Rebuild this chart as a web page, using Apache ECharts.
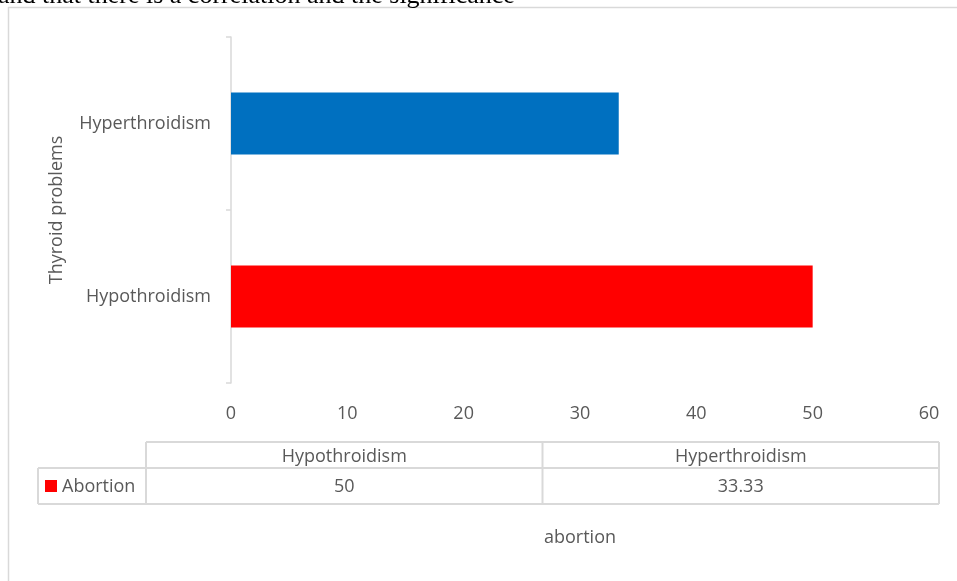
<!DOCTYPE html>
<html>
<head>
<meta charset="utf-8">
<script src="https://cdn.jsdelivr.net/npm/echarts@6/dist/echarts.min.js"></script>
<style>
html,body{margin:0;padding:0;background:#fff;}
#chart{width:957px;height:581px;}
</style>
</head>
<body>
<div id="chart"></div>
<script>
const categories = ['Hypothroidism', 'Hyperthroidism'];
const abortionValues = [50, 33.33];
const abortionLabels = ['50', '33.33'];
const barColors = ['#FF0000', '#0070C0'];
const seriesName = 'Abortion';
const xAxisName = 'abortion';
const yAxisName = 'Thyroid problems';
const xMin = 0, xMax = 60, xInterval = 10;
const noteText = 'and that there is a correlation and the significance';

const FONT = '"Open Sans"';
const FS = 18;
const TXT = '#595959';
const LINE = '#d9d9d9';

const chart = echarts.init(document.getElementById('chart'), null, {renderer: 'canvas'});

// data table layout
const tbl = {left: 38, rowLeft: 146, right: 939, top: 442, mid: 468, bottom: 504};
const colW = (tbl.right - tbl.rowLeft) / categories.length;

const graphics = [];
// outer frame lines of the chart area
graphics.push({type: 'line', shape: {x1: 8, y1: 7.5, x2: 957, y2: 7.5}, style: {stroke: LINE, lineWidth: 1.5}, silent: true});
graphics.push({type: 'line', shape: {x1: 8.5, y1: 7, x2: 8.5, y2: 581}, style: {stroke: LINE, lineWidth: 1.5}, silent: true});
// note text cut at top
graphics.push({type: 'text', x: -2, y: -3.5, style: {text: noteText, font: '26px "Liberation Serif"', fill: '#000', verticalAlign: 'middle', align: 'left'}, silent: true});

// table lines
const tl = (x1, y1, x2, y2) => graphics.push({type: 'line', shape: {x1, y1, x2, y2}, style: {stroke: LINE, lineWidth: 2}, silent: true});
tl(tbl.rowLeft, tbl.top, tbl.right, tbl.top);
tl(tbl.left, tbl.mid, tbl.right, tbl.mid);
tl(tbl.left, tbl.bottom, tbl.right, tbl.bottom);
tl(tbl.left, tbl.mid, tbl.left, tbl.bottom);
for (let i = 0; i <= categories.length; i++) {
  const x = tbl.rowLeft + i * colW;
  tl(x, tbl.top, x, tbl.bottom);
}
categories.forEach((c, i) => {
  const cx = tbl.rowLeft + (i + 0.5) * colW;
  graphics.push({type: 'text', x: cx, y: (tbl.top + tbl.mid) / 2 + 1.5, style: {text: c, font: FS + 'px ' + FONT, fill: TXT, align: 'center', verticalAlign: 'middle'}, silent: true});
  graphics.push({type: 'text', x: cx, y: (tbl.mid + tbl.bottom) / 2 + 1, style: {text: abortionLabels[i], font: FS + 'px ' + FONT, fill: TXT, align: 'center', verticalAlign: 'middle'}, silent: true});
});
// legend key in table
graphics.push({type: 'rect', shape: {x: 45, y: 480, width: 12, height: 12}, style: {fill: barColors[0]}, silent: true});
graphics.push({type: 'text', x: 62, y: (tbl.mid + tbl.bottom) / 2 + 1, style: {text: seriesName, font: FS + 'px ' + FONT, fill: TXT, align: 'left', verticalAlign: 'middle'}, silent: true});

const option = {
  backgroundColor: '#fff',
  animation: false,
  textStyle: {fontFamily: 'Open Sans'},
  grid: {left: 231, right: 28, top: 37, height: 346, containLabel: false},
  xAxis: {
    type: 'value', min: xMin, max: xMax, interval: xInterval,
    name: xAxisName, nameLocation: 'middle', nameGap: 155,
    nameTextStyle: {color: TXT, fontSize: FS, fontFamily: 'Open Sans', verticalAlign: 'middle'},
    axisLine: {show: false}, axisTick: {show: false}, splitLine: {show: false},
    axisLabel: {color: TXT, fontSize: FS, fontFamily: 'Open Sans', margin: 22}
  },
  yAxis: {
    type: 'category', data: categories,
    name: yAxisName, nameLocation: 'middle', nameGap: 174, nameRotate: 90,
    nameTextStyle: {color: TXT, fontSize: FS, fontFamily: 'Open Sans', verticalAlign: 'middle'},
    axisLine: {show: true, lineStyle: {color: LINE, width: 1.5}},
    axisTick: {show: true, length: 5, lineStyle: {color: LINE, width: 1.5}},
    axisLabel: {color: TXT, fontSize: FS, fontFamily: 'Open Sans', margin: 20},
    splitLine: {show: false}
  },
  series: [{
    name: seriesName, type: 'bar', barWidth: 62,
    data: abortionValues.map((v, i) => ({value: v, itemStyle: {color: barColors[i]}}))
  }],
  graphic: graphics
};
chart.setOption(option);
</script>
</body>
</html>
